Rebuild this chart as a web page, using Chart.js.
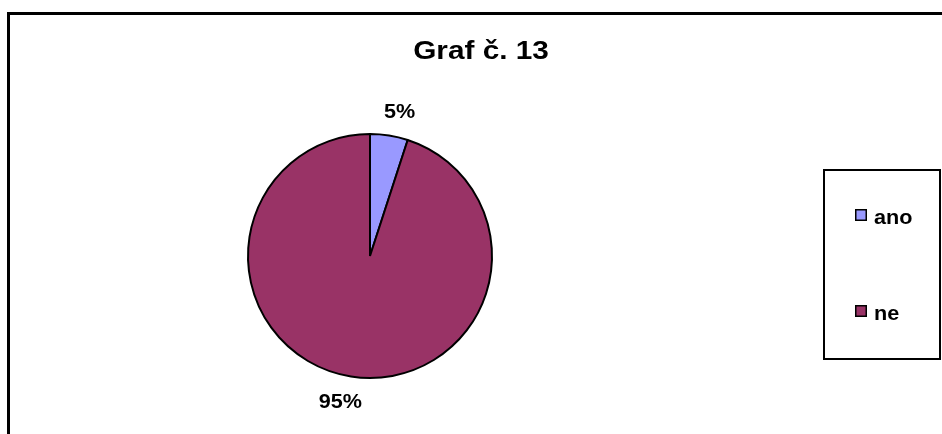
<!DOCTYPE html>
<html>
<head>
<meta charset="utf-8">
<script src="https://cdn.jsdelivr.net/npm/chart.js@4"></script>
<style>
  html, body { margin: 0; padding: 0; background: #fff; overflow: hidden; }
  #wrap { position: relative; width: 942px; height: 434px; }
</style>
</head>
<body>
<div id="wrap"><canvas id="graf" width="942" height="434"></canvas></div>
<script>
const chartTitle = 'Graf č. 13';
const categories = ['ano', 'ne'];
const values = [5, 95];
const colors = ['#9999FF', '#993366'];

const FONT = '"Liberation Sans", Arial, sans-serif';

// text in the original is a bit wider than plain Arial, so stretch it horizontally
function drawText(ctx, text, x, y, size, sx, align) {
    ctx.save();
    ctx.font = 'bold ' + size + 'px ' + FONT;
    ctx.fillStyle = '#000';
    ctx.textBaseline = 'alphabetic';
    const w = ctx.measureText(text).width * sx;
    let left = x;
    if (align === 'center') left = x - w / 2;
    ctx.translate(left, y);
    ctx.scale(sx, 1);
    ctx.textAlign = 'left';
    ctx.fillText(text, 0, 0);
    ctx.restore();
}

const decorPlugin = {
    id: 'decor',
    beforeDraw(chart) {
        const ctx = chart.ctx;
        ctx.save();
        // outer frame
        ctx.strokeStyle = '#000';
        ctx.lineWidth = 3;
        ctx.strokeRect(8.5, 13.5, 1200, 1200);
        ctx.restore();
    },
    afterDraw(chart) {
        const ctx = chart.ctx;
        drawText(ctx, chartTitle, 481, 59, 25, 1.19, 'center');

        // percentage labels outside the slices
        const meta = chart.getDatasetMeta(0);
        const total = values.reduce((a, b) => a + b, 0);
        meta.data.forEach((arc, i) => {
            const p = arc.getProps(['x', 'y', 'startAngle', 'endAngle', 'outerRadius'], true);
            const mid = (p.startAngle + p.endAngle) / 2;
            const lx = p.x + Math.cos(mid) * (p.outerRadius + 67);
            const ly = p.y + Math.sin(mid) * (p.outerRadius + 25);
            const pct = Math.round(values[i] / total * 100) + '%';
            drawText(ctx, pct, lx, ly + 7, 20, 1.08, 'center');
        });

        // legend box
        ctx.save();
        ctx.strokeStyle = '#000';
        ctx.lineWidth = 2;
        ctx.strokeRect(824, 170, 116, 189);
        const rows = [209, 305];
        categories.forEach((c, i) => {
            ctx.fillStyle = colors[i];
            ctx.fillRect(855, rows[i], 12, 12);
            ctx.lineWidth = 1.5;
            ctx.strokeStyle = '#000';
            ctx.strokeRect(855.75, rows[i] + 0.75, 10.5, 10.5);
            drawText(ctx, c, 874, rows[i] + 15, 21, 1.03, 'left');
        });
        ctx.restore();
    }
};

new Chart(document.getElementById('graf'), {
    type: 'pie',
    data: {
        labels: categories,
        datasets: [{
            data: values,
            backgroundColor: colors,
            borderColor: '#000',
            borderWidth: 2
        }]
    },
    options: {
        responsive: false,
        animation: false,
        layout: { padding: { left: 247, top: 133, right: 449, bottom: 55 } },
        plugins: {
            legend: { display: false },
            title: { display: false },
            tooltip: { enabled: false }
        }
    },
    plugins: [decorPlugin]
});
</script>
</body>
</html>
